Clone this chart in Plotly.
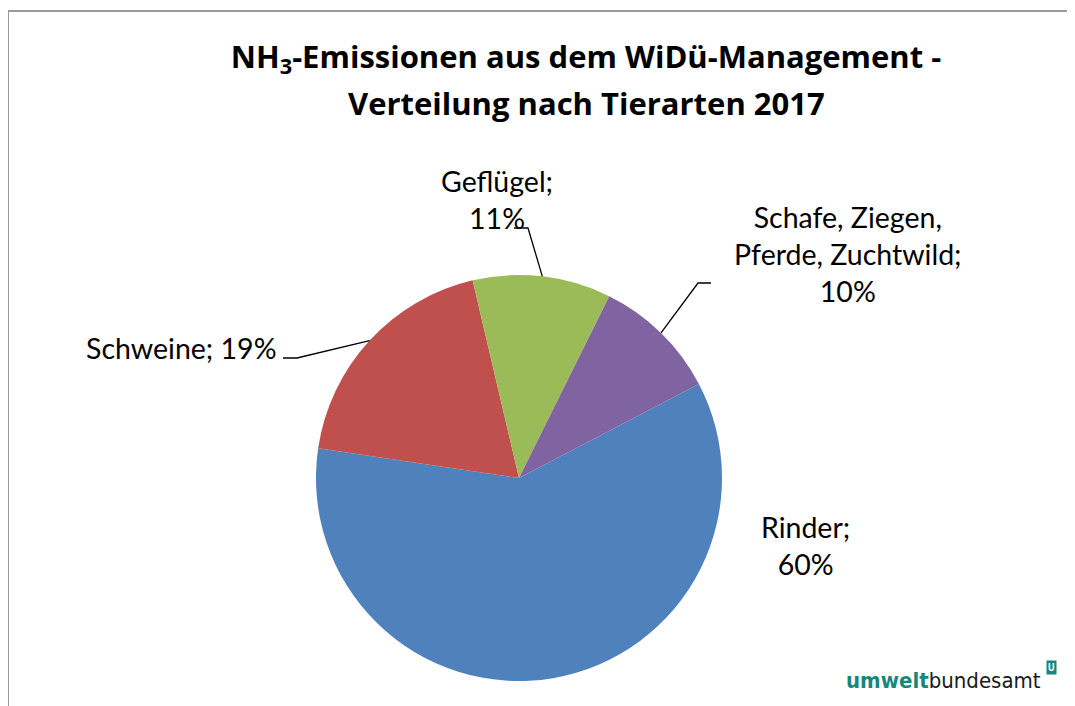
import math
import plotly.graph_objects as go

# ---- data ----
categories = ["Rinder", "Schweine", "Geflügel", "Schafe, Ziegen,<br>Pferde, Zuchtwild"]
shares = [60, 19, 11, 10]
colors = ["#4F81BD", "#C0504D", "#9BBB59", "#8064A2"]
label_text = ["Rinder;<br>60%", "Schweine; 19%", "Geflügel;<br>11%",
              "Schafe, Ziegen,<br>Pferde, Zuchtwild;<br>10%"]
title_line1 = "NH<sub>3</sub>-Emissionen aus dem WiDü-Management -"
title_line2 = "Verteilung nach Tierarten 2017"

# ---- layout (screen pixels; page body has an 8px margin) ----
W, H = 1075, 706
OFF = 8
CX, CY, R = 519, 478, 203
ROTATION = 62.4
FONT = "Lato"
TITLE_FONT = "Open Sans"
TITLE_SIZE = 31

def px(x):
    return (x - OFF) / W

def py(y):
    return 1 - (y - OFF) / H

fig = go.Figure()
fig.add_trace(go.Pie(
    labels=categories, values=shares, sort=False, direction="clockwise",
    rotation=ROTATION, textinfo="none", hoverinfo="label+percent",
    marker=dict(colors=colors, line=dict(width=0)),
    domain=dict(x=[px(CX - R), px(CX + R)], y=[py(CY + R), py(CY - R)]),
    showlegend=False,
))

# label placement: (x, y, xanchor) in px; leader elbow/end in px (None = no leader)
label_pos = [
    (805, 545, "center", None),
    (279, 348, "right", [(297, 358), (283, 358)]),
    (497, 199, "center", [(528, 228), (514, 228)]),
    (848, 254, "center", [(698, 283), (711, 283)]),
]

total = sum(shares)
cum = 0
annotations = []
shapes = []
for i, v in enumerate(shares):
    mid = ROTATION + (cum + v / 2) / total * 360
    cum += v
    x, y, xa, leader = label_pos[i]
    annotations.append(dict(
        x=px(x), y=py(y), xref="paper", yref="paper", xanchor=xa, yanchor="middle",
        text=label_text[i], showarrow=False, align="center",
        font=dict(family=FONT, size=28.5, color="#000000"),
    ))
    if leader:
        sx = CX + R * math.sin(math.radians(mid))
        sy = CY - R * math.cos(math.radians(mid))
        pts = [(sx, sy)] + leader
        path = "M " + " L ".join(f"{px(a):.5f},{py(b):.5f}" for a, b in pts)
        shapes.append(dict(type="path", path=path, xref="paper", yref="paper",
                           line=dict(color="#000000", width=1.3)))

# title second line
annotations.append(dict(
    x=px(586), y=py(103), xref="paper", yref="paper", xanchor="center", yanchor="middle",
    text=f"<b>{title_line2}</b>", showarrow=False,
    font=dict(family=TITLE_FONT, size=TITLE_SIZE, color="#000000"),
))

# logo
annotations.append(dict(
    x=px(1043), y=py(680), xref="paper", yref="paper", xanchor="right", yanchor="middle",
    text="<b><span style='color:#17877c'>umwelt</span></b><span style='color:#1a1a1a'>bundesamt</span>",
    showarrow=False, font=dict(family="DejaVu Sans Condensed, Roboto, sans-serif", size=22),
))
annotations.append(dict(
    x=px(1051), y=py(667), xref="paper", yref="paper", xanchor="center", yanchor="middle",
    text="<b>U</b>", showarrow=False, bgcolor="#17877c", borderpad=1,
    font=dict(family="Roboto", size=10, color="#ffffff"),
))

# chart frame
shapes.append(dict(type="rect", xref="paper", yref="paper",
                   x0=px(8), y0=py(11), x1=1.05, y1=-0.05,
                   line=dict(color="#9a9a9a", width=2), fillcolor="rgba(0,0,0,0)"))

fig.update_layout(
    width=W, height=H,
    margin=dict(l=0, r=0, t=0, b=0),
    paper_bgcolor="#ffffff", plot_bgcolor="#ffffff",
    title=dict(text=f"<b>{title_line1}</b>", x=px(586), xanchor="center",
               y=py(57), yanchor="middle", yref="container",
               font=dict(family=TITLE_FONT, size=TITLE_SIZE, color="#000000")),
    annotations=annotations, shapes=shapes,
)

fig.write_html("out.html")
